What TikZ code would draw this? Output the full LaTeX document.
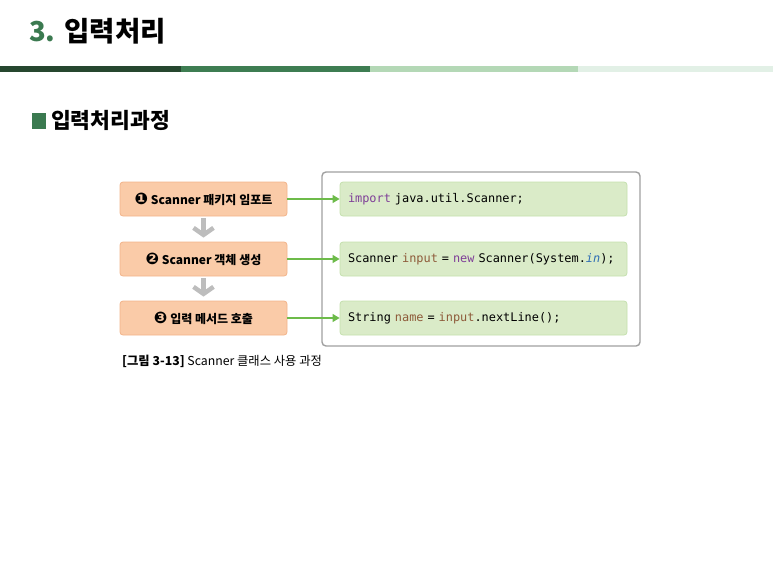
\documentclass[tikz,border=0pt]{standalone}
\usepackage{fontspec}
\setmainfont{Noto Sans CJK KR}
\setmonofont{DejaVu Sans Mono}
\newfontfamily\dvsans{DejaVu Sans}
\usetikzlibrary{arrows.meta,positioning}

\definecolor{titlegreen}{HTML}{3B7A50}
\definecolor{barA}{HTML}{26472F}
\definecolor{barB}{HTML}{3E7D52}
\definecolor{barC}{HTML}{B4D8B6}
\definecolor{barD}{HTML}{E2F0E6}
\definecolor{peach}{HTML}{FACBA8}
\definecolor{peachline}{HTML}{F2B48A}
\definecolor{codefill}{HTML}{DAEBC8}
\definecolor{codeline}{HTML}{C5E0AE}
\definecolor{linkgreen}{HTML}{6DBB4A}
\definecolor{flowgray}{HTML}{BDBDBD}
\definecolor{framegray}{HTML}{A0A0A0}
\definecolor{kwpurple}{HTML}{7F3F98}
\definecolor{varbrown}{HTML}{8E5B3A}
\definecolor{fieldblue}{HTML}{2E6DB4}

\newcommand{\kw}[1]{\textcolor{kwpurple}{#1}}
\newcommand{\var}[1]{\textcolor{varbrown}{#1}}
\newcommand{\num}[1]{{\dvsans\fontsize{16}{13}\selectfont #1}}

\begin{document}
\begin{tikzpicture}[x=1pt,y=-1pt,>=Stealth,
    stepbox/.style={rectangle,rounded corners=3pt,fill=peach,draw=peachline,line width=0.8pt,
      minimum width=167pt,minimum height=34pt,font=\fontsize{12}{13}\selectfont\bfseries},
    codebox/.style={rectangle,rounded corners=3pt,fill=codefill,draw=codeline,line width=0.8pt,
      minimum width=287pt,minimum height=34pt,text width=271pt,align=left,
      font=\fontsize{11.9}{13}\ttfamily},
    link/.style={draw=linkgreen,line width=1.1pt,-{Triangle[length=7pt,width=8pt]}},
    flow/.style={draw=flowgray,line width=4.5pt,-{Straight Barb[length=7pt,width=20pt]},
      shorten <=2pt,shorten >=4pt}]
\useasboundingbox (0,0) rectangle (773,571);

% heading and bar
\node[anchor=base west,inner sep=0pt,font=\fontsize{27.5}{30}\selectfont\bfseries] (title) at (29,41)
  {\textcolor{titlegreen}{3.}\hspace{9pt}입력처리};
\fill[barA] (0,66) rectangle (181,72);
\fill[barB] (181,66) rectangle (370,72);
\fill[barC] (370,66) rectangle (578,72);
\fill[barD] (578,66) rectangle (773,72);
\fill[titlegreen] (32,113) rectangle (46,129);
\node[anchor=base west,inner sep=0pt,font=\fontsize{21.5}{24}\selectfont\bfseries] (sub) at (51,128) {입력처리과정};

% steps
\node[stepbox] (s1) at (203.5,199) {\num{❶} Scanner 패키지 임포트};
\node[stepbox] (s2) at (203.5,259) {\num{❷} Scanner 객체 생성};
\node[stepbox] (s3) at (203.5,318) {\num{❸} 입력 메서드 호출};
\draw[flow] (s1) -- (s2);
\draw[flow] (s2) -- (s3);

% code
\draw[framegray,line width=1.4pt,rounded corners=4pt] (322,172) rectangle (640,346);
\node[codebox] (c1) at (483.5,199) {\kw{import} java.util.Scanner;};
\node[codebox] (c2) at (483.5,259) {Scanner \var{input} = \kw{new} Scanner(System.\textcolor{fieldblue}{\textit{in}});};
\node[codebox] (c3) at (483.5,318) {String \var{name} = \var{input}.nextLine();};
\foreach \i in {1,2,3}
  \draw[link] (s\i) -- (c\i);

\node[anchor=base west,inner sep=0pt,font=\fontsize{12.3}{14}\selectfont] (cap) at (122,365)
  {\textbf{[그림 3-13]} Scanner 클래스 사용 과정};
\end{tikzpicture}
\end{document}
